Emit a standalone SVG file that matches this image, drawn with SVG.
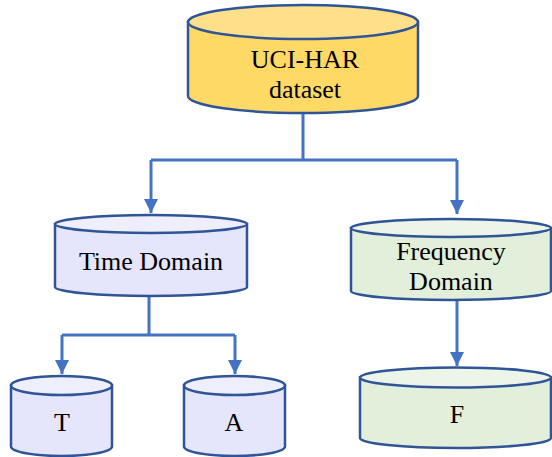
<svg xmlns="http://www.w3.org/2000/svg" width="552" height="457" viewBox="0 0 552 457">
<style>
.edge{fill:none;stroke:#4472C4;stroke-width:3}
.st{stroke:#2F5597;stroke-width:2.5}
.lbl{font-family:"Liberation Serif","Times New Roman",serif;font-size:26px;fill:#000;text-anchor:middle}
</style>
<defs>
<marker id="arr" markerWidth="14" markerHeight="14" refX="14" refY="7" orient="auto" markerUnits="userSpaceOnUse">
<path d="M0,0 L14,7 L0,14 Z" fill="#4472C4"/>
</marker>
</defs>
<rect width="552" height="457" fill="#fff"/>
<g id="connectors">
<path class="edge" d="M303,113 V160 M151,160 H457"/>
<path class="edge" d="M151,160 V213" marker-end="url(#arr)"/>
<path class="edge" d="M457,160 V214" marker-end="url(#arr)"/>
<path class="edge" d="M149,296 V335 M62,335 H235"/>
<path class="edge" d="M62,335 V374" marker-end="url(#arr)"/>
<path class="edge" d="M235,335 V374" marker-end="url(#arr)"/>
<path class="edge" d="M457,300 V366" marker-end="url(#arr)"/>
</g>
<g id="uci">
<path class="st" fill="#FFD966" d="M188,22 V96 A115,17 0 0 0 418,96 V22 Z"/>
<ellipse class="st" fill="#FFE08A" cx="303" cy="22" rx="115" ry="17"/>
<text class="lbl" x="305" y="68">UCI-HAR</text>
<text class="lbl" x="305" y="98">dataset</text>
</g>
<g id="time">
<path class="st" fill="#E5E5FB" d="M55,224 V287 A96,9 0 0 0 247,287 V224 Z"/>
<ellipse class="st" fill="#EEEEFC" cx="151" cy="224" rx="96" ry="9"/>
<text class="lbl" x="151" y="270">Time Domain</text>
</g>
<g id="freq">
<path class="st" fill="#E2EFDA" d="M351,228 V291 A100,9 0 0 0 551,291 V228 Z"/>
<ellipse class="st" fill="#EDF5E8" cx="451" cy="228" rx="100" ry="9"/>
<text class="lbl" x="451" y="260">Frequency</text>
<text class="lbl" x="451" y="290">Domain</text>
</g>
<g id="t">
<path class="st" fill="#E5E5FB" d="M11,385.5 V446.5 A50.5,9.5 0 0 0 112,446.5 V385.5 Z"/>
<ellipse class="st" fill="#EEEEFC" cx="61.5" cy="385.5" rx="50.5" ry="9.5"/>
<text class="lbl" x="62" y="431">T</text>
</g>
<g id="a">
<path class="st" fill="#E5E5FB" d="M184,385.5 V446.5 A50.5,9.5 0 0 0 285,446.5 V385.5 Z"/>
<ellipse class="st" fill="#EEEEFC" cx="234.5" cy="385.5" rx="50.5" ry="9.5"/>
<text class="lbl" x="234" y="431">A</text>
</g>
<g id="f">
<path class="st" fill="#E2EFDA" d="M360,377.5 V438 A95.5,10 0 0 0 551,438 V377.5 Z"/>
<ellipse class="st" fill="#EDF5E8" cx="455.5" cy="377.5" rx="95.5" ry="10"/>
<text class="lbl" x="457" y="423">F</text>
</g>
</svg>
